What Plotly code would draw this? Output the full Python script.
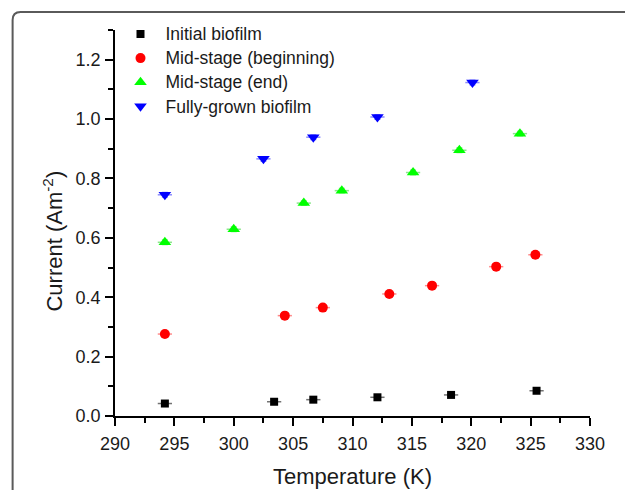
import plotly.graph_objects as go

# Data
temp_initial = [294.2, 303.4, 306.7, 312.1, 318.3, 325.5]
cur_initial = [0.042, 0.048, 0.055, 0.063, 0.071, 0.085]

temp_mid_begin = [294.2, 304.3, 307.5, 313.1, 316.7, 322.1, 325.4]
cur_mid_begin = [0.276, 0.338, 0.365, 0.411, 0.439, 0.503, 0.543]

temp_mid_end = [294.2, 300.0, 305.9, 309.1, 315.1, 319.0, 324.1]
cur_mid_end = [0.585, 0.629, 0.717, 0.759, 0.820, 0.895, 0.951]

temp_full = [294.2, 302.5, 306.7, 312.1, 320.1]
cur_full = [0.745, 0.866, 0.939, 1.007, 1.123]

x_err = 0.6
y_err = 0.008

series = [
    ("Initial biofilm", temp_initial, cur_initial, "square", "#000000", "rgba(0,0,0,0.55)", 8),
    ("Mid-stage (beginning)", temp_mid_begin, cur_mid_begin, "circle", "#FF0000", "rgba(255,0,0,0.45)", 10),
    ("Mid-stage (end)", temp_mid_end, cur_mid_end, "triangle-up", "#00FF00", "rgba(0,200,0,0.45)", 11),
    ("Fully-grown biofilm", temp_full, cur_full, "triangle-down", "#0000FF", "rgba(0,0,255,0.45)", 11),
]

FONT = "Liberation Sans, Arial, sans-serif"
LEGEND_TEXT_PX = 17.5

fig = go.Figure()
for name, xs, ys, sym, col, ecol, size in series:
    fig.add_trace(go.Scatter(
        x=xs, y=ys, mode="markers",
        name=f"<span style='font-size:{LEGEND_TEXT_PX}px'>{name}</span>",
        marker=dict(symbol=sym, color=col, size=size, line=dict(width=0)),
        error_x=dict(type="constant", value=x_err, color=ecol, thickness=1.5, width=0),
        error_y=dict(type="constant", value=y_err, color=ecol, thickness=1.2, width=3),
    ))

W, H = 625, 490
L, R, T, B = 114.5, 35, 30, 74
pw, ph = W - L - R, H - T - B

def px(xpix):
    return (xpix - L) / pw

def py(ypix):
    return (H - B - ypix) / ph

# rounded outer frame (paper coordinates)
x0, y0 = px(12), py(12)
x1, yb = px(660), py(520)
rx, ry = 8 / pw, 8 / ph
frame_path = (f"M {x0},{yb} L {x0},{y0 - ry} Q {x0},{y0} {x0 + rx},{y0} L {x1},{y0}")

fig.update_layout(
    width=W, height=H,
    margin=dict(l=L, r=R, t=T, b=B, pad=0, autoexpand=False),
    paper_bgcolor="white", plot_bgcolor="white",
    font=dict(family=FONT, color="#1a1a1a", size=18),
    showlegend=True,
    legend=dict(
        x=px(115), y=py(17), xanchor="left", yanchor="top",
        font=dict(family=FONT, size=16.2, color="#1a1a1a"),
        bgcolor="rgba(0,0,0,0)", borderwidth=0,
        itemwidth=40, tracegroupgap=0,
    ),
    shapes=[dict(type="path", path=frame_path, xref="paper", yref="paper",
                 line=dict(color="#5a5a5a", width=2))],
    annotations=[dict(
        text="Current (Am<sup>-2</sup>)", textangle=-90,
        xref="paper", yref="paper", x=px(52), y=py(241),
        xanchor="center", yanchor="middle", showarrow=False,
        font=dict(family=FONT, size=22, color="#1a1a1a"),
    )],
)

fig.update_xaxes(
    range=[290, 330], tick0=290, dtick=5, automargin=False,
    showline=True, linecolor="black", linewidth=1.5,
    ticks="outside", ticklen=8, tickwidth=1.5, tickcolor="black",
    minor=dict(dtick=2.5, ticks="outside", ticklen=5, tickwidth=1.5, tickcolor="black"),
    showgrid=False, zeroline=False, mirror=False,
    ticklabelstandoff=3,
    tickfont=dict(family=FONT, size=18, color="#1a1a1a"),
    title=dict(text="Temperature (K)", font=dict(family=FONT, size=22, color="#1a1a1a"), standoff=15),
)
fig.update_yaxes(
    range=[0, 1.3], tick0=0, dtick=0.2, tickformat=".1f", automargin=False,
    showline=True, linecolor="black", linewidth=1.5,
    ticks="outside", ticklen=8, tickwidth=1.5, tickcolor="black",
    minor=dict(dtick=0.1, ticks="outside", ticklen=5, tickwidth=1.5, tickcolor="black"),
    showgrid=False, zeroline=False, mirror=False,
    ticklabelstandoff=1,
    tickfont=dict(family=FONT, size=18, color="#1a1a1a"),
)

fig.write_html(
    "out.html",
    config={"displayModeBar": False},
    post_script="document.body.style.margin='0';document.body.style.overflow='hidden';",
)
